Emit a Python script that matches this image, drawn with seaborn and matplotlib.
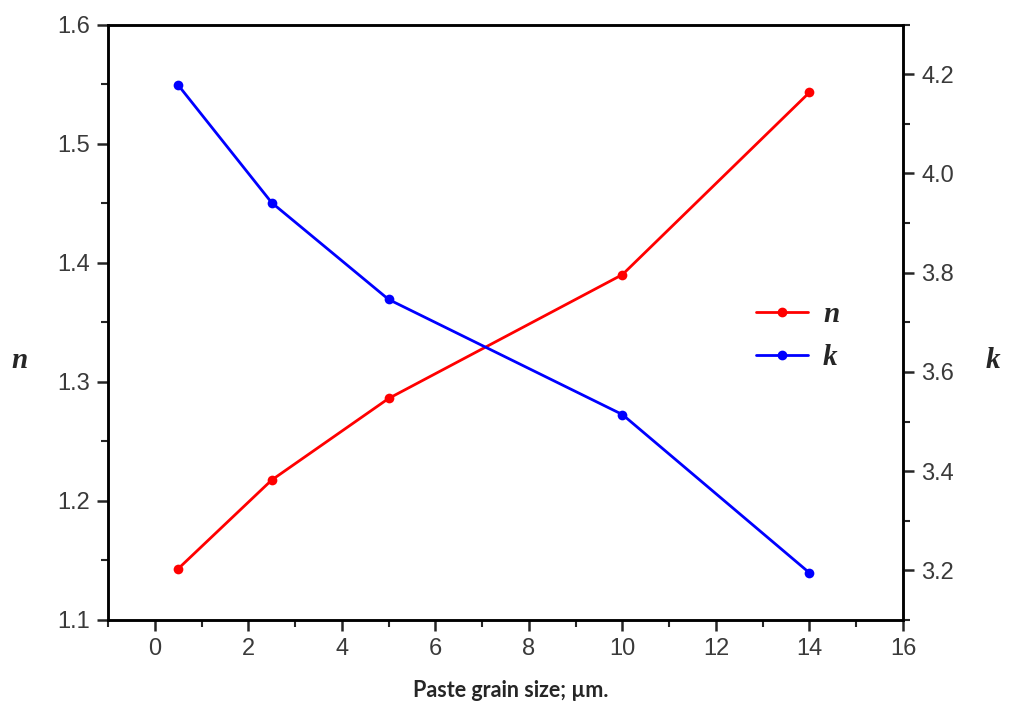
import matplotlib
matplotlib.use("Agg")
import matplotlib.pyplot as plt
from matplotlib.ticker import MultipleLocator, FormatStrFormatter
from matplotlib.lines import Line2D
import seaborn as sns
import pandas as pd

# Data
grain_size = [0.5, 2.5, 5, 10, 14]
n_values = [1.143, 1.2175, 1.286, 1.390, 1.543]
k_values = [4.178, 3.941, 3.746, 3.514, 3.195]
x_label = "Paste grain size; µm."
n_label = "n"
k_label = "k"

df = pd.DataFrame({"size": grain_size, "n": n_values, "k": k_values})

sns.set_style("ticks")
plt.rcParams["font.family"] = ["Liberation Sans", "DejaVu Sans"]

fig = plt.figure(figsize=(10.09, 7.13), dpi=100)
ax = fig.add_axes([108 / 1009, 1 - 620 / 713, 795 / 1009, 595.5 / 713])
ax2 = ax.twinx()

sns.lineplot(data=df, x="size", y="n", ax=ax, color="#ff0000", marker="o",
             markersize=7, markeredgewidth=0, linewidth=2.0)
sns.lineplot(data=df, x="size", y="k", ax=ax2, color="#0000ff", marker="o",
             markersize=7, markeredgewidth=0, linewidth=2.0)

ax.set_xlim(-1, 16)
ax.set_ylim(1.1, 1.6)
ax2.set_ylim(3.1, 4.3)

ax.xaxis.set_major_locator(MultipleLocator(2))
ax.xaxis.set_minor_locator(MultipleLocator(1))
ax.yaxis.set_major_locator(MultipleLocator(0.1))
ax.yaxis.set_minor_locator(MultipleLocator(0.05))
ax2.yaxis.set_major_locator(MultipleLocator(0.2))
ax2.yaxis.set_minor_locator(MultipleLocator(0.1))
ax.yaxis.set_major_formatter(FormatStrFormatter("%.1f"))
ax2.yaxis.set_major_formatter(FormatStrFormatter("%.1f"))

for a in (ax, ax2):
    for s in a.spines.values():
        s.set_linewidth(1.8)
        s.set_color("black")
        s.set_visible(True)
    a.tick_params(which="major", direction="out", length=8, width=1.8,
                  labelsize=17, labelcolor="#3a3a3a", pad=5)
    a.tick_params(which="minor", direction="out", length=5, width=1.5)

ax.tick_params(axis="y", which="both", left=True, right=False)
ax2.tick_params(axis="y", which="both", left=False, right=True)
ax.tick_params(axis="x", which="both", top=False, bottom=True)

serif_bi = dict(family=["Liberation Serif", "DejaVu Serif"], weight="bold",
                style="italic", size=21)
ax.set_ylabel(n_label, rotation=0, va="center", ha="center", **serif_bi)
ax.yaxis.set_label_coords(-0.111, 0.435)
ax2.set_ylabel(k_label, rotation=0, va="center", ha="center", **serif_bi)
ax2.yaxis.set_label_coords(1.113, 0.435)
ax.set_xlabel(x_label, family=["Lato", "DejaVu Sans"], weight="bold", size=15.5,
              va="center")
ax.xaxis.set_label_coords(0.506, -0.118)

handles = [
    Line2D([], [], color="#ff0000", marker="o", markersize=6, linewidth=2.0),
    Line2D([], [], color="#0000ff", marker="o", markersize=6, linewidth=2.0),
]
leg = ax2.legend(handles, [n_label, k_label], loc="upper left",
                 bbox_to_anchor=(0.782, 0.579), frameon=False, handlelength=1.8,
                 handletextpad=0.5, labelspacing=0.55,
                 prop=dict(family=["Liberation Serif", "DejaVu Serif"],
                           weight="bold", style="italic", size=21))

fig.savefig("out.png", dpi=100, facecolor="white")
